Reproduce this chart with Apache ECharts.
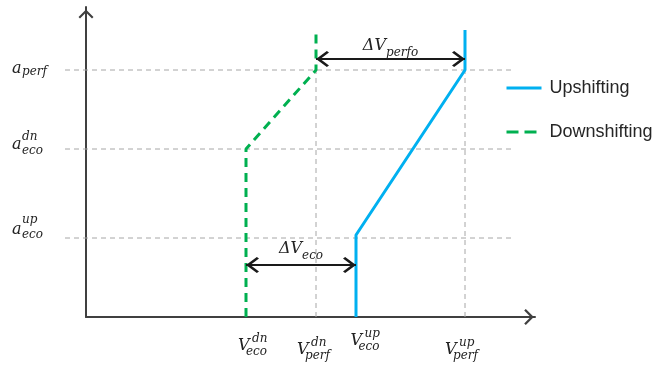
<!DOCTYPE html>
<html>
<head>
<meta charset="utf-8">
<script src="https://cdn.jsdelivr.net/npm/echarts@6/dist/echarts.min.js"></script>
<style>
  html, body { margin: 0; padding: 0; background: #ffffff; }
  #chart { width: 654px; height: 366px; }
</style>
</head>
<body>
<div id="chart"></div>
<script>
// Speed thresholds on the x axis and acceleration levels on the y axis (axis units)
const speedTicks = [16, 23, 27, 37.9];
const speedTickParts = [['V', 'dn', 'eco'], ['V', 'dn', 'perf'], ['V', 'up', 'eco'], ['V', 'up', 'perf']];
const levelTicks = [7.9, 16.8, 24.7];
const levelTickParts = [['a', 'up', 'eco'], ['a', 'dn', 'eco'], ['a', ' ', 'perf']];

// Shift schedules
const upshiftX = [27, 27, 37.9, 37.9];
const upshiftY = [0, 8.2, 24.7, 28.7];
const downshiftX = [16, 16, 23, 23];
const downshiftY = [0, 16.8, 24.7, 28.7];

// Hysteresis spans between the two schedules
const spanNames = ['perfo', 'eco'];
const spanFrom = [23, 16];
const spanTo = [37.9, 27];
const spanLevel = [25.8, 5.2];

// Guide lines
const guideLevels = [7.9, 16.8, 24.7];
const guideSpeeds = [23, 37.9];

// ---- styling ----
const MATH_FONT = 'DejaVu Serif';
const INK = '#222222';
const AXIS_COLOR = '#404040';
const GUIDE = { color: '#a6a6a6', width: 1, type: [5, 4] };
const chevron = 'path://M0,0 L10,10 L8,12 L0,4 L-8,12 L-10,10 Z';

function mathStyle(size, width, height) {
  return { fontFamily: MATH_FONT, fontStyle: 'italic', fontSize: size, color: INK,
           width: width, height: height, lineHeight: height, align: 'left', verticalAlign: 'top' };
}
function spacer(width, height) {
  return { width: width, height: height || 0, lineHeight: height || 0, align: 'left', verticalAlign: 'top', fontSize: 10 };
}

// x tick labels: stacked superscript / symbol / subscript
const xLayout = [
  { lead: 24, gap: 5 }, { lead: 2, gap: 8.5 }, { lead: 29, gap: 0 }, { lead: 0, gap: 9 }
];
const xRich = {
  sup: mathStyle(12, 26, 6),
  main: mathStyle(16, 14, 8),
  sub: mathStyle(12, 32, 4),
  sp1: spacer(14), sp2: spacer(26), sp3: spacer(8)
};
xLayout.forEach((l, i) => {
  xRich['lead' + i] = spacer(l.lead);
  xRich['gap' + i] = spacer(1, l.gap);
});

// y tick labels
const yLayout = [
  { h1: 15.2, ha: 4, hb: 6.8, gb: 25.2 },
  { h1: 11.2, ha: 4, hb: 8.8, gb: 11.2 },
  { h1: 2, ha: 2, hb: 4.8, gb: 0 }
];
const yRich = { ysp: spacer(10), yfill: spacer(26) };
yLayout.forEach((l, i) => {
  yRich['ysup' + i] = mathStyle(12, 26, l.h1);
  yRich['ya' + i] = mathStyle(16, 10, l.ha);
  yRich['ysub' + i] = mathStyle(12, 26, l.hb);
  yRich['ygap' + i] = spacer(1, l.gb);
});

const chart = echarts.init(document.getElementById('chart'), null, { renderer: 'canvas' });

// Horizontal guides live on a second, hidden coordinate system that reaches past the y axis
const guideSeries = [];
guideLevels.forEach(v => {
  guideSeries.push({
    type: 'line', xAxisIndex: 1, yAxisIndex: 1,
    data: [[-2.1, v], [42.6, v]], symbol: 'none',
    lineStyle: GUIDE, z: 1, silent: true
  });
});
guideSpeeds.forEach(s => {
  guideSeries.push({
    type: 'line', data: [[s, 0], [s, levelTicks[2]]], symbol: 'none', clip: false,
    lineStyle: GUIDE, z: 1, silent: true
  });
});

const spanLines = spanNames.map((name, i) => [
  {
    coord: [spanFrom[i], spanLevel[i]],
    label: {
      show: true, position: 'insideMiddleTop', distance: i === 0 ? -2 : 1.5,
      formatter: '{d|ΔV}{s|' + name + '}',
      rich: { d: mathStyle(16, null, 2), s: mathStyle(12, null, 16) }
    }
  },
  { coord: [spanTo[i], spanLevel[i]] }
]);

chart.setOption({
  animation: false,
  backgroundColor: '#ffffff',
  grid: [
    { left: 86, top: 7, width: 449, height: 310, containLabel: false },
    { left: 65, top: 7, width: 447, height: 310, containLabel: false }
  ],
  legend: {
    data: [
      { name: 'Upshifting' },
      { name: 'Downshifting', lineStyle: { type: [12, 6] } }
    ],
    orient: 'vertical', left: 500, top: 74,
    itemWidth: 35, itemHeight: 20, itemGap: 26,
    itemStyle: { opacity: 0 },
    lineStyle: { width: 3 },
    textStyle: { fontFamily: 'Liberation Sans', fontSize: 18, color: '#262626', padding: [0, 0, 0, 3] }
  },
  xAxis: [{
    type: 'value', min: 0, max: 44.9,
    axisLine: {
      onZero: false,
      lineStyle: { color: AXIS_COLOR, width: 2 },
      symbol: ['none', chevron], symbolSize: [16, 12], symbolOffset: [0, -6]
    },
    axisTick: { show: false },
    splitLine: { show: false },
    axisLabel: {
      customValues: speedTicks, margin: 14, hideOverlap: false,
      formatter: v => {
        const i = speedTicks.indexOf(v);
        const p = speedTickParts[i];
        return '{gap' + i + '| }\n' +
               '{lead' + i + '| }{sp1| }{sup|' + p[1] + '}\n' +
               '{lead' + i + '| }{main|' + p[0] + '}{sp2| }\n' +
               '{lead' + i + '| }{sp3| }{sub|' + p[2] + '}';
      },
      rich: xRich
    }
  }, {
    type: 'value', gridIndex: 1, min: -2.1, max: 42.6, show: false
  }],
  yAxis: [{
    type: 'value', min: 0, max: 31,
    axisLine: {
      onZero: false,
      lineStyle: { color: AXIS_COLOR, width: 2 },
      symbol: ['none', chevron], symbolSize: [15, 14], symbolOffset: [0, -7]
    },
    axisTick: { show: false },
    splitLine: { show: false },
    axisLabel: {
      customValues: levelTicks, margin: 38, hideOverlap: false,
      formatter: v => {
        const i = levelTicks.indexOf(v);
        const p = levelTickParts[i];
        return '{ysp| }{ysup' + i + '|' + p[1] + '}\n' +
               '{ya' + i + '|' + p[0] + '}{yfill| }\n' +
               '{ysp| }{ysub' + i + '|' + p[2] + '}\n' +
               '{ygap' + i + '| }';
      },
      rich: yRich
    }
  }, {
    type: 'value', gridIndex: 1, min: 0, max: 31, show: false
  }],
  series: guideSeries.concat([
    {
      name: 'Upshifting', type: 'line', symbol: 'none', clip: false, z: 4,
      data: upshiftX.map((x, i) => [x, upshiftY[i]]),
      lineStyle: { color: '#00B0F0', width: 3 }, itemStyle: { color: '#00B0F0' }
    },
    {
      name: 'Downshifting', type: 'line', symbol: 'none', clip: false, z: 4,
      data: downshiftX.map((x, i) => [x, downshiftY[i]]),
      lineStyle: { color: '#00B050', width: 3, type: [9, 6] }, itemStyle: { color: '#00B050' }
    },
    {
      name: 'spans', type: 'line', data: [], z: 5,
      markLine: {
        silent: true, animation: false,
        symbol: [chevron, chevron], symbolSize: [16, 13], symbolOffset: [[0, 6.5], [0, 6.5]],
        lineStyle: { color: '#1a1a1a', width: 1.8, type: 'solid' },
        emphasis: { disabled: true },
        data: spanLines
      }
    }
  ])
});
</script>
</body>
</html>
